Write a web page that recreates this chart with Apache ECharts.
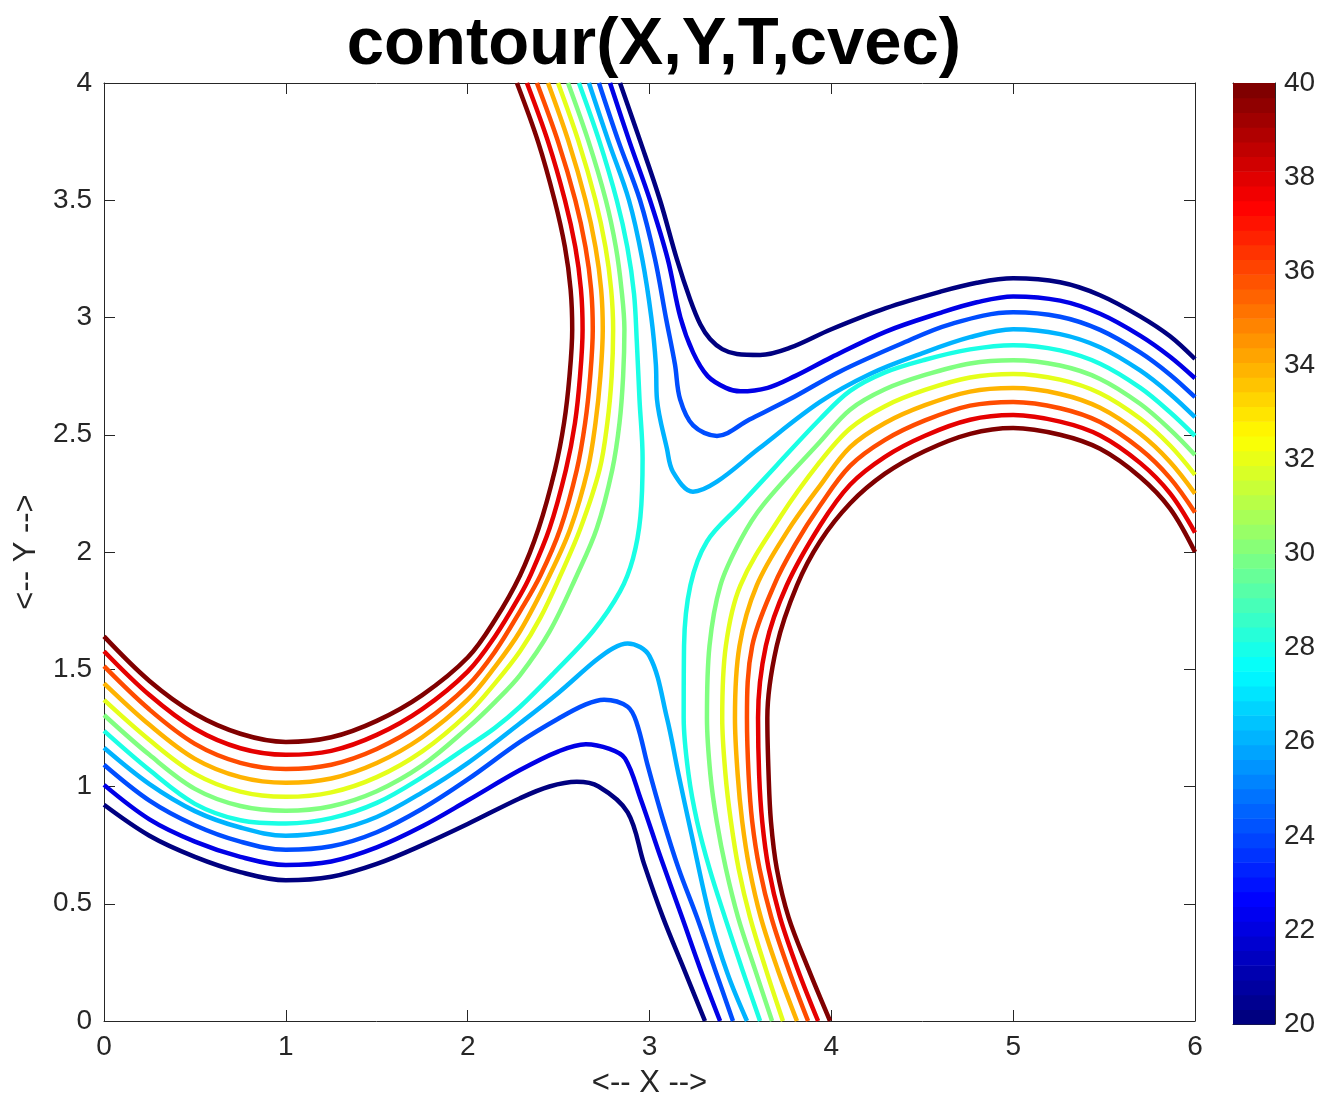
<!DOCTYPE html>
<html>
<head>
<meta charset="utf-8">
<script src="https://cdn.jsdelivr.net/npm/echarts@6/dist/echarts.min.js"></script>
<style>
html,body{margin:0;padding:0;background:#fff;}
#chart{width:1332px;height:1104px;}
</style>
</head>
<body>
<div id="chart"></div>
<script>
// ---- contour levels (cvec) ----
const levels = [20, 22, 24, 26, 28, 30, 32, 34, 36, 38, 40];
const cMin = 20, cMax = 40;
const cbTicks = [20, 22, 24, 26, 28, 30, 32, 34, 36, 38, 40];

// ---- upper-left arcs (left edge -> top edge), levels 28..40 ----
const UL40 = [[0,1.64],[0.25,1.45],[0.5,1.31],[0.75,1.225],[1,1.19],[1.25,1.21],[1.5,1.28],[1.75,1.39],[2,1.55],[2.15,1.71],[2.288,1.90],[2.39,2.1],[2.48,2.35],[2.53,2.55],[2.56,2.75],[2.575,2.95],[2.566,3.12],[2.535,3.3],[2.478,3.5],[2.387,3.75],[2.271,4]];
const UL38 = [[0,1.577],[0.25,1.39],[0.5,1.246],[0.75,1.163],[1,1.135],[1.25,1.152],[1.5,1.22],[1.75,1.33],[2,1.49],[2.15,1.64],[2.288,1.815],[2.345,1.9],[2.45,2.1],[2.54,2.35],[2.59,2.55],[2.618,2.75],[2.632,2.95],[2.623,3.12],[2.592,3.3],[2.535,3.5],[2.442,3.75],[2.326,4]];
const UL36 = [[0,1.513],[0.25,1.328],[0.5,1.182],[0.75,1.101],[1,1.075],[1.25,1.093],[1.5,1.16],[1.75,1.27],[2,1.43],[2.15,1.575],[2.288,1.747],[2.40,1.9],[2.51,2.1],[2.60,2.35],[2.646,2.55],[2.674,2.75],[2.688,2.95],[2.679,3.12],[2.648,3.3],[2.592,3.5],[2.497,3.75],[2.381,4]];
const UL34 = [[0,1.44],[0.25,1.263],[0.5,1.118],[0.75,1.04],[1,1.016],[1.25,1.034],[1.5,1.10],[1.75,1.21],[2,1.37],[2.15,1.51],[2.288,1.662],[2.45,1.9],[2.565,2.1],[2.66,2.35],[2.703,2.55],[2.73,2.75],[2.743,2.95],[2.734,3.12],[2.703,3.3],[2.648,3.5],[2.555,3.75],[2.442,4]];
const UL32 = [[0,1.369],[0.25,1.198],[0.5,1.054],[0.75,0.978],[1,0.956],[1.25,0.975],[1.5,1.04],[1.75,1.15],[2,1.31],[2.15,1.44],[2.288,1.577],[2.40,1.72],[2.51,1.9],[2.62,2.1],[2.725,2.35],[2.768,2.55],[2.792,2.75],[2.80,2.95],[2.789,3.12],[2.758,3.3],[2.703,3.5],[2.61,3.75],[2.497,4]];
const UL30 = [[0,1.305],[0.25,1.135],[0.5,0.99],[0.75,0.917],[1,0.897],[1.25,0.916],[1.5,0.98],[1.75,1.09],[2,1.25],[2.15,1.36],[2.288,1.475],[2.45,1.66],[2.60,1.9],[2.71,2.1],[2.795,2.35],[2.835,2.55],[2.855,2.75],[2.862,2.95],[2.846,3.12],[2.815,3.3],[2.76,3.5],[2.665,3.75],[2.552,4]];
const UL28 = [[0,1.237],[0.25,1.07],[0.5,0.926],[0.75,0.856],[1,0.842],[1.25,0.865],[1.5,0.93],[1.75,1.04],[2,1.17],[2.15,1.25],[2.288,1.34],[2.469,1.48],[2.689,1.662],[2.838,1.832],[2.909,1.972],[2.95,2.15],[2.962,2.4],[2.945,2.65],[2.93,2.9],[2.915,3.1],[2.878,3.3],[2.82,3.5],[2.725,3.75],[2.612,4]];

// ---- lower pieces (left edge -> bottom edge), levels 20..26 ----
const LO26 = [[0,1.165],[0.25,1.01],[0.5,0.895],[0.75,0.825],[1,0.79],[1.25,0.81],[1.5,0.87],[1.75,0.975],[2,1.10],[2.288,1.27],[2.5,1.40],[2.7,1.535],[2.8,1.59],[2.88,1.61],[3.0,1.556],[3.096,1.292],[3.16,1.05],[3.23,0.80],[3.333,0.442],[3.43,0.2],[3.536,0]];
const LO24 = [[0,1.093],[0.25,0.94],[0.5,0.835],[0.75,0.765],[1,0.73],[1.25,0.745],[1.5,0.805],[1.75,0.905],[2,1.03],[2.288,1.19],[2.5,1.29],[2.65,1.35],[2.75,1.37],[2.88,1.34],[2.93,1.27],[2.99,1.09],[3.07,0.87],[3.16,0.65],[3.261,0.442],[3.36,0.22],[3.459,0]];
const LO22 = [[0,1.007],[0.25,0.86],[0.5,0.765],[0.75,0.70],[1,0.665],[1.25,0.68],[1.5,0.74],[1.75,0.83],[2,0.94],[2.288,1.07],[2.5,1.15],[2.65,1.18],[2.78,1.16],[2.865,1.12],[2.95,0.95],[3.06,0.70],[3.179,0.442],[3.28,0.22],[3.388,0]];
const LO20 = [[0,0.922],[0.25,0.79],[0.5,0.70],[0.75,0.635],[1,0.60],[1.25,0.615],[1.5,0.67],[1.75,0.75],[2,0.84],[2.288,0.95],[2.45,1.0],[2.6,1.02],[2.72,1.0],[2.88,0.89],[2.97,0.67],[3.074,0.442],[3.19,0.22],[3.305,0]];

// ---- upper pieces (top edge -> right edge), levels 20..26 ----
const UP20 = [[2.838,4],[2.95,3.75],[3.058,3.5],[3.15,3.25],[3.223,3.078],[3.28,2.97],[3.333,2.908],[3.40,2.865],[3.481,2.844],[3.608,2.84],[3.77,2.87],[4.0,2.95],[4.3,3.04],[4.6,3.11],[4.8,3.148],[5,3.167],[5.258,3.15],[5.478,3.095],[5.698,3.005],[5.863,2.92],[6,2.823]];
const UP22 = [[2.783,4],[2.89,3.75],[3.003,3.5],[3.10,3.25],[3.17,3.0],[3.24,2.85],[3.32,2.75],[3.42,2.70],[3.5,2.685],[3.65,2.70],[3.8,2.75],[4.0,2.83],[4.3,2.94],[4.6,3.02],[4.8,3.065],[5,3.09],[5.258,3.072],[5.478,3.016],[5.698,2.923],[5.863,2.833],[6,2.741]];
const UP24 = [[2.722,4],[2.83,3.75],[2.948,3.5],[3.03,3.25],[3.09,3.0],[3.14,2.8],[3.168,2.652],[3.24,2.54],[3.371,2.495],[3.55,2.565],[3.773,2.652],[4.048,2.77],[4.378,2.886],[4.653,2.971],[5,3.022],[5.258,3.003],[5.478,2.947],[5.698,2.851],[5.863,2.756],[6,2.66]];
const UP26 = [[2.667,4],[2.775,3.75],[2.887,3.5],[2.96,3.25],[3.01,3.0],[3.035,2.8],[3.041,2.652],[3.096,2.44],[3.129,2.342],[3.239,2.257],[3.371,2.30],[3.6,2.44],[3.938,2.64],[4.213,2.759],[4.488,2.844],[4.763,2.916],[5,2.95],[5.258,2.929],[5.478,2.873],[5.698,2.774],[5.863,2.674],[6,2.575]];

// ---- lower-right arcs (bottom edge -> right edge), levels 28..40 ----
const LR28 = [[3.608,0],[3.51,0.22],[3.415,0.442],[3.33,0.65],[3.262,0.85],[3.215,1.05],[3.188,1.292],[3.19,1.6],[3.225,1.858],[3.316,2.045],[3.498,2.2],[3.7,2.37],[3.938,2.567],[4.103,2.687],[4.295,2.766],[4.515,2.82],[4.763,2.864],[5,2.882],[5.258,2.86],[5.478,2.803],[5.698,2.701],[5.863,2.596],[6,2.495]];
const LR30 = [[3.674,0],[3.58,0.22],[3.487,0.442],[3.42,0.65],[3.37,0.85],[3.335,1.05],[3.316,1.292],[3.33,1.6],[3.39,1.858],[3.50,2.05],[3.624,2.2],[3.938,2.47],[4.103,2.607],[4.295,2.694],[4.515,2.755],[4.763,2.804],[5,2.818],[5.258,2.795],[5.478,2.738],[5.698,2.632],[5.863,2.522],[6,2.414]];
const LR32 = [[3.734,0],[3.64,0.22],[3.553,0.442],[3.49,0.65],[3.448,0.85],[3.418,1.05],[3.40,1.292],[3.42,1.6],[3.50,1.858],[3.72,2.15],[3.938,2.385],[4.103,2.527],[4.295,2.622],[4.515,2.691],[4.763,2.744],[5,2.759],[5.258,2.735],[5.478,2.677],[5.698,2.569],[5.863,2.454],[6,2.329]];
const LR34 = [[3.811,0],[3.705,0.22],[3.612,0.442],[3.55,0.65],[3.51,0.85],[3.485,1.05],[3.47,1.292],[3.495,1.6],[3.59,1.858],[3.76,2.09],[3.938,2.283],[4.103,2.447],[4.295,2.55],[4.515,2.626],[4.763,2.684],[5,2.699],[5.258,2.674],[5.478,2.615],[5.698,2.504],[5.863,2.384],[6,2.249]];
const LR36 = [[3.872,0],[3.765,0.22],[3.67,0.442],[3.605,0.65],[3.565,0.85],[3.545,1.05],[3.536,1.292],[3.565,1.6],[3.685,1.858],[3.80,2.03],[3.938,2.198],[4.103,2.367],[4.295,2.478],[4.515,2.561],[4.763,2.624],[5,2.64],[5.258,2.613],[5.478,2.554],[5.698,2.44],[5.863,2.315],[6,2.168]];
const LR38 = [[3.927,0],[3.815,0.22],[3.718,0.442],[3.655,0.65],[3.62,0.85],[3.603,1.05],[3.597,1.292],[3.64,1.6],[3.755,1.858],[3.938,2.113],[4.103,2.287],[4.295,2.406],[4.515,2.496],[4.763,2.564],[5,2.584],[5.258,2.556],[5.478,2.497],[5.698,2.38],[5.863,2.25],[6,2.083]];
const LR40 = [[3.993,0],[3.875,0.22],[3.765,0.442],[3.70,0.65],[3.668,0.85],[3.655,1.05],[3.648,1.292],[3.70,1.6],[3.811,1.858],[3.938,2.045],[4.103,2.207],[4.295,2.334],[4.515,2.431],[4.763,2.504],[5,2.529],[5.258,2.50],[5.478,2.44],[5.698,2.32],[5.863,2.185],[6,2.0]];

const pieces = [
  [20, LO20], [20, UP20], [22, LO22], [22, UP22], [24, LO24], [24, UP24], [26, LO26], [26, UP26],
  [28, UL28], [28, LR28], [30, UL30], [30, LR30], [32, UL32], [32, LR32], [34, UL34], [34, LR34],
  [36, UL36], [36, LR36], [38, UL38], [38, LR38], [40, UL40], [40, LR40]
];

// MATLAB jet colormap
function jet(t) {
  const c = v => Math.max(0, Math.min(1, v));
  const r = c(Math.min(4 * t - 1.5, -4 * t + 4.5));
  const g = c(Math.min(4 * t - 0.5, -4 * t + 3.5));
  const b = c(Math.min(4 * t + 0.5, -4 * t + 2.5));
  return 'rgb(' + Math.round(r * 255) + ',' + Math.round(g * 255) + ',' + Math.round(b * 255) + ')';
}
const nBands = 64;
const bands = [];
for (let i = 0; i < nBands; i++) {
  const lo = cMin + (cMax - cMin) * i / nBands;
  const hi = cMin + (cMax - cMin) * (i + 1) / nBands;
  bands.push([lo, hi, i]);
}

const FONT = '"Liberation Sans", Arial, Helvetica, sans-serif';
const AX = '#262626';
const tickStyle = { fontFamily: FONT, fontSize: 28, color: AX };
const nameStyle = { fontFamily: FONT, fontSize: 31, color: AX };

const chart = echarts.init(document.getElementById('chart'), null, { renderer: 'canvas' });

const series = pieces.map(([lev, pts]) => ({
  type: 'line',
  xAxisIndex: 0, yAxisIndex: 0,
  data: pts,
  showSymbol: false, symbol: 'none',
  smooth: 0.35,
  silent: true,
  clip: true,
  lineStyle: { width: 4.5, color: jet((lev - cMin) / (cMax - cMin)), cap: 'butt', join: 'round' },
  z: 3
}));

series.push({
  type: 'custom',
  xAxisIndex: 2, yAxisIndex: 2,
  data: bands,
  silent: true,
  renderItem: function (params, api) {
    const lo = api.value(0), hi = api.value(1), i = api.value(2);
    const p0 = api.coord([0, hi]);
    const p1 = api.coord([1, lo]);
    return {
      type: 'rect',
      shape: { x: p0[0], y: p0[1], width: p1[0] - p0[0], height: p1[1] - p0[1] + 0.6 },
      style: { fill: jet(i / (nBands - 1)) }
    };
  },
  encode: { x: -1, y: [0, 1] },
  z: 1
});

const option = {
  animation: false,
  backgroundColor: '#ffffff',
  title: {
    text: 'contour(X,Y,T,cvec)',
    left: 649, top: 7,
    textAlign: 'center',
    textStyle: { fontFamily: FONT, fontSize: 67, fontWeight: 'bold', color: '#000' }
  },
  grid: [
    { left: 104, top: 83, width: 1091, height: 941, containLabel: false },
    { left: 1233, top: 83, width: 42, height: 941, containLabel: false }
  ],
  xAxis: [
    {
      gridIndex: 0, type: 'value', min: 0, max: 6, interval: 1, position: 'bottom',
      axisLine: { show: true, onZero: false, lineStyle: { color: AX, width: 1 } },
      axisTick: { show: true, inside: true, length: 11, lineStyle: { color: AX } },
      axisLabel: Object.assign({ margin: 12 }, tickStyle),
      splitLine: { show: false },
      name: '<-- X -->', nameLocation: 'middle', nameGap: 47,
      nameTextStyle: nameStyle
    },
    {
      gridIndex: 0, type: 'value', min: 0, max: 6, interval: 1, position: 'top',
      axisLine: { show: true, onZero: false, lineStyle: { color: AX, width: 1 } },
      axisTick: { show: true, inside: true, length: 11, lineStyle: { color: AX } },
      axisLabel: { show: false }, splitLine: { show: false }
    },
    {
      gridIndex: 1, type: 'value', min: 0, max: 1, position: 'bottom',
      axisLine: { show: true, onZero: false, lineStyle: { color: AX, width: 1 } },
      axisTick: { show: false }, axisLabel: { show: false }, splitLine: { show: false }
    },
    {
      gridIndex: 1, type: 'value', min: 0, max: 1, position: 'top',
      axisLine: { show: true, onZero: false, lineStyle: { color: AX, width: 1 } },
      axisTick: { show: false }, axisLabel: { show: false }, splitLine: { show: false }
    }
  ],
  yAxis: [
    {
      gridIndex: 0, type: 'value', min: 0, max: 4, interval: 0.5, position: 'left',
      axisLine: { show: true, onZero: false, lineStyle: { color: AX, width: 1 } },
      axisTick: { show: true, inside: true, length: 11, lineStyle: { color: AX } },
      axisLabel: Object.assign({ margin: 12 }, tickStyle),
      splitLine: { show: false },
      name: '<-- Y -->', nameLocation: 'middle', nameGap: 58, nameRotate: 90,
      nameTextStyle: nameStyle
    },
    {
      gridIndex: 0, type: 'value', min: 0, max: 4, interval: 0.5, position: 'right',
      axisLine: { show: true, onZero: false, lineStyle: { color: AX, width: 1 } },
      axisTick: { show: true, inside: true, length: 11, lineStyle: { color: AX } },
      axisLabel: { show: false }, splitLine: { show: false }
    },
    {
      gridIndex: 1, type: 'value', min: cMin, max: cMax, interval: 2, position: 'right',
      axisLine: { show: true, onZero: false, lineStyle: { color: AX, width: 1 } },
      axisTick: { show: true, inside: true, length: 8, lineStyle: { color: AX } },
      axisLabel: Object.assign({ margin: 9 }, tickStyle),
      splitLine: { show: false }
    },
    {
      gridIndex: 1, type: 'value', min: cMin, max: cMax, interval: 2, position: 'left',
      axisLine: { show: true, onZero: false, lineStyle: { color: AX, width: 1 } },
      axisTick: { show: false }, axisLabel: { show: false }, splitLine: { show: false }
    }
  ],
  series: series
};
chart.setOption(option);
</script>
</body>
</html>
